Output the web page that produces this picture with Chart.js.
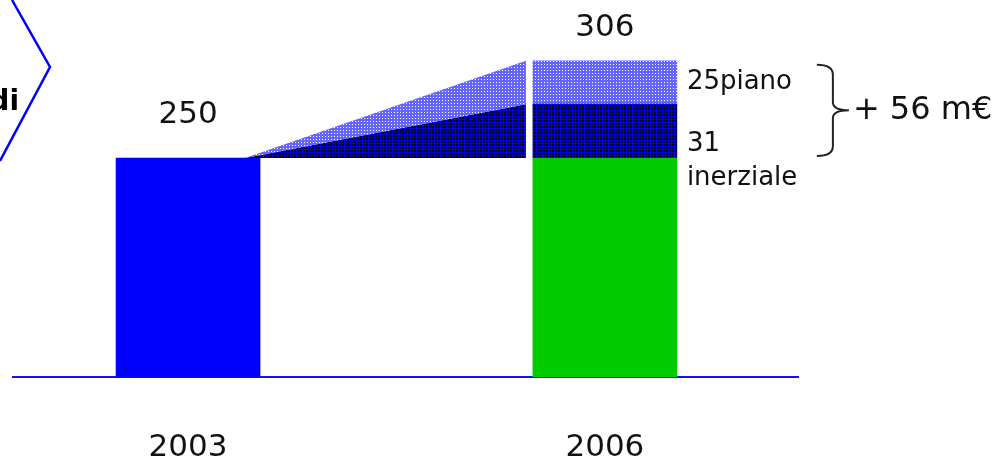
<!DOCTYPE html>
<html>
<head>
<meta charset="utf-8">
<script src="https://cdn.jsdelivr.net/npm/chart.js@4/dist/chart.umd.min.js"></script>
<style>
  html, body { margin: 0; padding: 0; background: #fff; }
  #chart { display: block; }
</style>
</head>
<body>
<canvas id="chart" width="998" height="464"></canvas>
<script>
// data
const years = [2003, 2006];
const baseValues = [250, 250];
const inertialValues = [null, 31];
const planValues = [null, 25];
const totals = [250, 306];
const inertialLabel = ['31', 'inerziale'];
const planLabel = '25piano';
const deltaLabel = '+ 56 m€';

const FONT = '"DejaVu Sans", Verdana, sans-serif';

// small dither tiles, like the old office fill patterns
function makePattern(bg, fg, cells) {
    const c = document.createElement('canvas');
    c.width = 3;
    c.height = 3;
    const g = c.getContext('2d');
    g.fillStyle = bg;
    g.fillRect(0, 0, 3, 3);
    g.fillStyle = fg;
    cells.forEach(([x, y]) => g.fillRect(x, y, 1, 1));
    return g.createPattern(c, 'repeat');
}

const ctx0 = document.getElementById('chart').getContext('2d');
const lightPattern = makePattern('#6464ff', '#ffffff', [[1, 1]]);
const navyPattern = makePattern('#0000d8', '#000028', [[0, 0], [1, 0], [0, 1], [1, 1]]);

const decorPlugin = {
    id: 'decor',
    beforeDatasetsDraw(chart) {
        const ctx = chart.ctx;
        const y = chart.scales.y;
        const bars = chart.getDatasetMeta(0).data;
        const left = bars[0];
        const right = bars[1];

        const tipX = left.x + left.width / 2 - 15;
        const tipY = y.getPixelForValue(baseValues[0]);
        const edgeX = right.x - right.width / 2 - 7;
        const yBase = y.getPixelForValue(baseValues[1]);
        const yMid = y.getPixelForValue(baseValues[1] + inertialValues[1]);
        const yTop = y.getPixelForValue(totals[1]);

        ctx.save();
        ctx.fillStyle = navyPattern;
        ctx.beginPath();
        ctx.moveTo(tipX, tipY);
        ctx.lineTo(edgeX, yMid);
        ctx.lineTo(edgeX, yBase);
        ctx.closePath();
        ctx.fill();

        ctx.fillStyle = lightPattern;
        ctx.beginPath();
        ctx.moveTo(tipX, tipY);
        ctx.lineTo(edgeX, yTop);
        ctx.lineTo(edgeX, yMid);
        ctx.closePath();
        ctx.fill();
        ctx.restore();
    },
    afterDatasetsDraw(chart) {
        const ctx = chart.ctx;
        const y = chart.scales.y;
        const bars = chart.getDatasetMeta(0).data;
        const left = bars[0];
        const right = bars[1];
        const yBase = y.getPixelForValue(baseValues[1]);
        const yMid = y.getPixelForValue(baseValues[1] + inertialValues[1]);
        const yTop = y.getPixelForValue(totals[1]);

        ctx.save();
        ctx.fillStyle = '#111';
        ctx.textBaseline = 'middle';

        // totals above bars
        ctx.font = '31px ' + FONT;
        ctx.textAlign = 'center';
        ctx.fillText(String(totals[0]), left.x, y.getPixelForValue(totals[0]) - 43);
        ctx.fillText(String(totals[1]), right.x, yTop - 33);

        // segment labels
        const lx = right.x + right.width / 2 + 10;
        ctx.font = '26px ' + FONT;
        ctx.textAlign = 'left';
        ctx.fillText(planLabel, lx, (yTop + yMid) / 2);
        ctx.fillText(inertialLabel[0], lx, yMid + 40);
        ctx.fillText(inertialLabel[1], lx, yMid + 74);

        // brace
        const bx0 = right.x + right.width / 2 + 140;
        const bx1 = bx0 + 16;
        const btip = bx0 + 32;
        const top = yTop + 4;
        const bottom = yBase - 2;
        const mid = (top + bottom) / 2;
        ctx.strokeStyle = '#222';
        ctx.lineWidth = 2;
        ctx.beginPath();
        ctx.moveTo(bx0, top);
        ctx.quadraticCurveTo(bx1, top, bx1, top + 10);
        ctx.lineTo(bx1, mid - 8);
        ctx.quadraticCurveTo(bx1, mid, btip, mid);
        ctx.quadraticCurveTo(bx1, mid, bx1, mid + 8);
        ctx.lineTo(bx1, bottom - 10);
        ctx.quadraticCurveTo(bx1, bottom, bx0, bottom);
        ctx.stroke();

        ctx.font = '32px ' + FONT;
        ctx.fillText(deltaLabel, btip + 4, mid);

        // cut-off chevron from the slide on the left
        ctx.strokeStyle = '#0000ff';
        ctx.lineWidth = 2.5;
        ctx.beginPath();
        ctx.moveTo(12, 0);
        ctx.lineTo(50, 67);
        ctx.lineTo(0, 161);
        ctx.stroke();
        ctx.font = 'bold 28px ' + FONT;
        ctx.textAlign = 'right';
        ctx.fillStyle = '#000';
        ctx.fillText('di', 19, 103);
        ctx.restore();
    }
};

new Chart(ctx0, {
    type: 'bar',
    data: {
        datasets: [
            {
                label: 'base',
                data: years.map((x, i) => ({ x, y: baseValues[i] })),
                backgroundColor: ['#0000ff', '#00cc00']
            },
            {
                label: 'inerziale',
                data: years.map((x, i) => ({ x, y: inertialValues[i] })),
                backgroundColor: navyPattern
            },
            {
                label: 'piano',
                data: years.map((x, i) => ({ x, y: planValues[i] })),
                backgroundColor: lightPattern
            }
        ]
    },
    options: {
        responsive: false,
        animation: false,
        barThickness: 144,
        layout: { padding: { left: 13, right: 200, top: 19, bottom: 0 } },
        scales: {
            x: {
                type: 'linear',
                offset: false,
                min: 2001.74,
                max: 2007.39,
                stacked: true,
                grid: { display: false, drawTicks: false },
                border: { display: true, color: '#1010ff', width: 2 },
                afterBuildTicks: (scale) => {
                    scale.ticks = years.map((v) => ({ value: v }));
                },
                afterFit: (scale) => {
                    scale.height = 87;
                },
                ticks: {
                    padding: 52,
                    color: '#111',
                    font: { family: FONT, size: 31 },
                    callback: (v) => String(v)
                }
            },
            y: {
                display: false,
                stacked: true,
                min: 124,
                max: 330
            }
        },
        plugins: {
            legend: { display: false },
            tooltip: { enabled: false }
        }
    },
    plugins: [decorPlugin]
});
</script>
</body>
</html>
